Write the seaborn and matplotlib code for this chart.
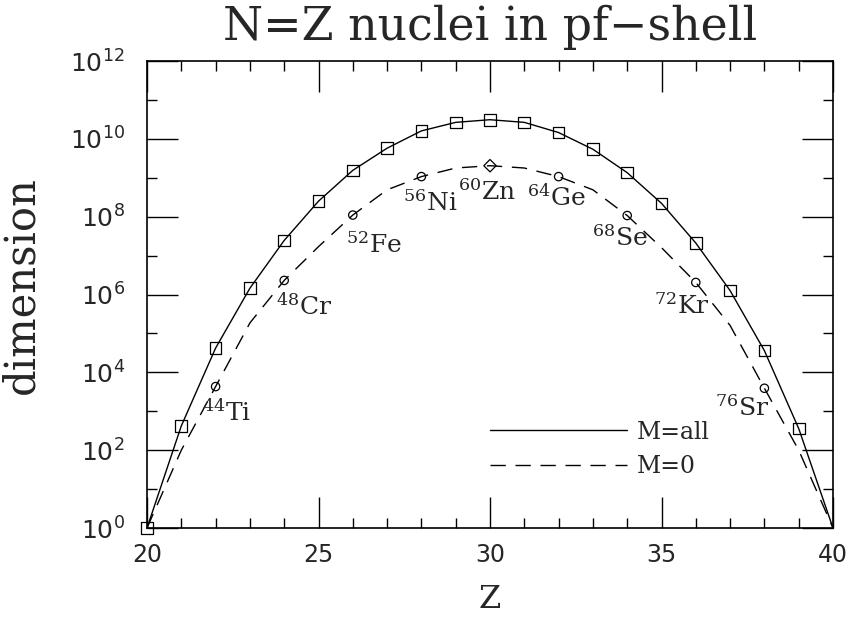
import matplotlib
matplotlib.use("Agg")
import matplotlib.pyplot as plt
from matplotlib.ticker import FixedLocator, NullFormatter
import pandas as pd
import seaborn as sns

# ---- data ----
Z = list(range(20, 41))
dim_all = [1, 4.2e2, 4.2e4, 1.45e6, 2.45e7, 2.5e8, 1.55e9, 5.75e9, 1.6e10, 2.65e10,
           3.1e10, 2.65e10, 1.45e10, 5.4e9, 1.35e9, 2.2e8, 2.1e7, 1.26e6, 3.6e4, 3.6e2, 1]
dim_m0 = [1, 1.0e2, 4.3e3, 1.86e5, 2.3e6, 1.7e7, 1.1e8, 4.9e8, 1.07e9, 1.78e9,
          2.04e9, 1.78e9, 1.07e9, 4.9e8, 1.07e8, 1.6e7, 2.04e6, 1.6e5, 3.9e3, 1.0e2, 1]
sq_Z = list(range(20, 40))
sq_dim = dim_all[:20]
circ_Z = [22, 24, 26, 28, 32, 34, 36, 38]
circ_dim = [4.3e3, 2.3e6, 1.1e8, 1.07e9, 1.07e9, 1.07e8, 2.04e6, 3.9e3]
diam_Z = [30]
diam_dim = [2.04e9]
nuc_Z = [22, 24, 26, 28, 30, 32, 34, 36, 38]
nuc_dim = [4.3e3, 2.3e6, 1.1e8, 1.07e9, 2.04e9, 1.07e9, 1.07e8, 2.04e6, 3.9e3]
nuc_mass = [44, 48, 52, 56, 60, 64, 68, 72, 76]
nuc_sym = ["Ti", "Cr", "Fe", "Ni", "Zn", "Ge", "Se", "Kr", "Sr"]
xticks = [20, 25, 30, 35, 40]
yexp = [0, 2, 4, 6, 8, 10, 12]
legend_labels = ["M=all", "M=0"]

# label offsets (pixels) relative to the marked point
lab_off = [(-14, -34), (-8, -34), (-7, -38), (-18, -34), (-32, -34),
           (-32, -29), (-35, -30), (-42, -32), (-49, -28)]

sns.set_theme(style="ticks")
plt.rcParams["font.family"] = ["DejaVu Serif"]
plt.rcParams["mathtext.fontset"] = "dejavuserif"

fig = plt.figure(figsize=(8.52, 6.17), dpi=100)
ax = fig.add_axes([147 / 852, 1 - 528 / 617, 686 / 852, 467 / 617])

df_all = pd.DataFrame({"Z": Z, "dim": dim_all})
df_m0 = pd.DataFrame({"Z": Z, "dim": dim_m0})
sns.lineplot(data=df_all, x="Z", y="dim", ax=ax, color="black", lw=1.0,
             label=legend_labels[0], estimator=None, sort=False)
sns.lineplot(data=df_m0, x="Z", y="dim", ax=ax, color="black", lw=1.0,
             label=legend_labels[1], estimator=None, sort=False)
ax.lines[1].set_linestyle((0, (11, 7)))

sns.scatterplot(x=sq_Z, y=sq_dim, ax=ax, marker="s", s=70, clip_on=False,
                facecolor="none", edgecolor="black", linewidth=0.9, zorder=3)
sns.scatterplot(x=circ_Z, y=circ_dim, ax=ax, marker="o", s=36,
                facecolor="none", edgecolor="black", linewidth=0.9, zorder=3)
sns.scatterplot(x=diam_Z, y=diam_dim, ax=ax, marker="D", s=40,
                facecolor="none", edgecolor="black", linewidth=0.9, zorder=3)

for zz, dd, m, s, off in zip(nuc_Z, nuc_dim, nuc_mass, nuc_sym, lab_off):
    ax.annotate(r"$\mathregular{^{%d}}$%s" % (m, s), xy=(zz, dd),
                xytext=off, textcoords="offset pixels",
                ha="left", va="baseline", fontsize=18, family="DejaVu Serif")

ax.set_yscale("log")
ax.set_xlim(20, 40)
ax.set_ylim(1, 1e12)

ax.set_xticks(xticks)
ax.set_xticklabels([str(t) for t in xticks], family="DejaVu Sans", fontsize=17)
ax.xaxis.set_minor_locator(FixedLocator(list(range(20, 41))))
ax.set_yticks([10.0 ** e for e in yexp])
ax.set_yticklabels([r"$\mathregular{10^{%d}}$" % e for e in yexp],
                   family="DejaVu Sans", fontsize=18)
ax.yaxis.set_minor_locator(FixedLocator([10.0 ** e for e in range(1, 12, 2)]))
ax.yaxis.set_minor_formatter(NullFormatter())

ax.tick_params(which="major", direction="in", length=22, width=1.0,
               top=True, right=True, color="black")
ax.tick_params(which="minor", direction="in", length=7, width=1.0,
               top=True, right=True, color="black")
ax.tick_params(axis="x", which="major", pad=11)
ax.tick_params(axis="y", which="major", pad=16)
for sp in ax.spines.values():
    sp.set_linewidth(1.2)
    sp.set_color("black")

ax.set_xlabel("Z", fontsize=23, labelpad=12)
ax.set_ylabel("dimension", fontsize=30)
ax.yaxis.set_label_coords(-0.153, 0.52)
ax.set_title("N=Z nuclei in pf\u2212shell", fontsize=33, pad=15)

handles = ax.lines[:2]
ax.legend(handles, legend_labels, loc="center left",
          bbox_to_anchor=(0.5, 0.168), frameon=False, fontsize=17,
          handlelength=5.8, handletextpad=0.4, labelspacing=0.5,
          borderpad=0, borderaxespad=0)

fig.savefig("out.png", dpi=100, facecolor="white")
